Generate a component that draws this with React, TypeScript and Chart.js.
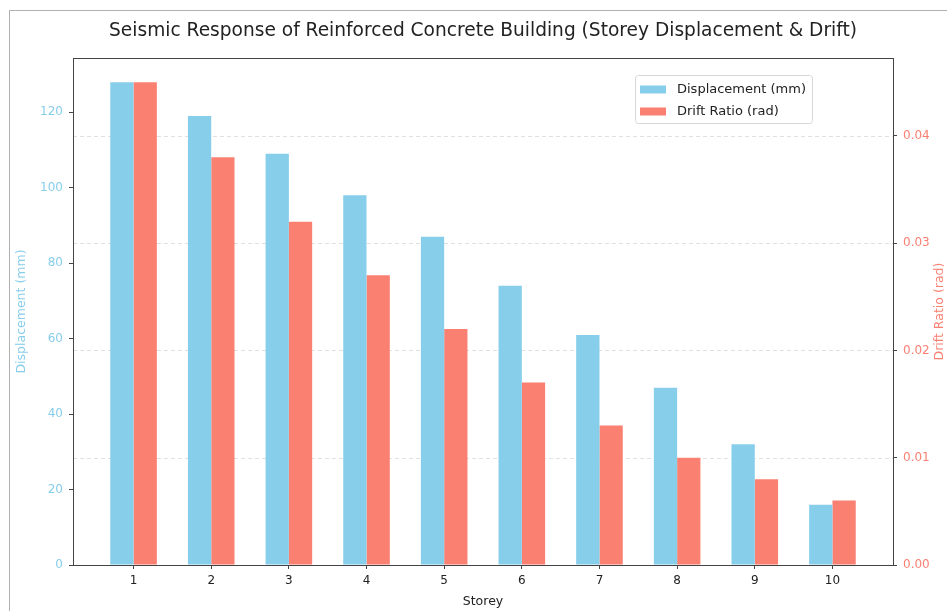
import React, { useEffect, useRef } from 'react';
import { Chart, registerables } from 'chart.js';

Chart.register(...registerables);

const storeys = [1, 2, 3, 4, 5, 6, 7, 8, 9, 10];
const displacement = [128, 119, 109, 98, 87, 74, 61, 47, 32, 16];
const driftRatio = [0.045, 0.038, 0.032, 0.027, 0.022, 0.017, 0.013, 0.01, 0.008, 0.006];
const dispTicks = [0, 20, 40, 60, 80, 100, 120];
const driftTicks = [0, 0.01, 0.02, 0.03, 0.04];
const seriesNames = ['Displacement (mm)', 'Drift Ratio (rad)'];
const chartTitle = 'Seismic Response of Reinforced Concrete Building (Storey Displacement & Drift)';
const xTitle = 'Storey';
const yLeftTitle = 'Displacement (mm)';
const yRightTitle = 'Drift Ratio (rad)';

const BLUE = '#87CEEB';
const RED = '#FA8072';
const FONT = '"DejaVu Sans", sans-serif';

const dispMax = Math.max(...displacement) * 1.05;
const driftMax = Math.max(...driftRatio) * 1.05;
const xMin = storeys[0] - 0.3 - 0.48;
const xMax = storeys[storeys.length - 1] + 0.3 + 0.48;

const decor = {
  id: 'decor',
  beforeDatasetsDraw(chart: any) {
    const { ctx, chartArea: a, scales } = chart;
    ctx.save();
    ctx.strokeStyle = 'rgba(0,0,0,0.12)';
    ctx.lineWidth = 1;
    ctx.setLineDash([4, 3]);
    driftTicks.forEach((v) => {
      if (v === 0) return;
      const y = Math.round(scales.y1.getPixelForValue(v)) + 0.5;
      ctx.beginPath();
      ctx.moveTo(a.left, y);
      ctx.lineTo(a.right, y);
      ctx.stroke();
    });
    ctx.restore();
  },
  afterDraw(chart: any) {
    const { ctx, chartArea: a, width, height } = chart;
    ctx.save();
    // outer frame
    ctx.fillStyle = '#b0b0b0';
    ctx.fillRect(9, 10, width - 9, 1);
    ctx.fillRect(9, 10, 1, height - 10);
    // axes frame
    ctx.strokeStyle = '#444';
    ctx.lineWidth = 1;
    ctx.strokeRect(Math.round(a.left) + 0.5, Math.round(a.top) + 0.5, Math.round(a.right - a.left), Math.round(a.bottom - a.top));
    // title
    const cx = (a.left + a.right) / 2;
    const cy = (a.top + a.bottom) / 2;
    ctx.fillStyle = '#222';
    ctx.font = `18.6px ${FONT}`;
    ctx.textAlign = 'center';
    ctx.textBaseline = 'middle';
    ctx.fillText(chartTitle, cx, 31);
    // x title
    ctx.font = `12.5px ${FONT}`;
    ctx.fillText(xTitle, cx, 602);
    // left title
    ctx.save();
    ctx.translate(22, cy);
    ctx.rotate(-Math.PI / 2);
    ctx.fillStyle = BLUE;
    ctx.fillText(yLeftTitle, 0, 0);
    ctx.restore();
    // right title
    ctx.save();
    ctx.translate(940, cy);
    ctx.rotate(-Math.PI / 2);
    ctx.fillStyle = RED;
    ctx.fillText(yRightTitle, 0, 0);
    ctx.restore();
    // legend
    const lx = 635, ly = 75, lw = 177, lh = 48;
    ctx.fillStyle = 'rgba(255,255,255,0.85)';
    ctx.strokeStyle = '#d6d6d6';
    ctx.beginPath();
    ctx.roundRect(lx + 0.5, ly + 0.5, lw, lh, 3);
    ctx.fill();
    ctx.stroke();
    const colors = [BLUE, RED];
    ctx.font = `13px ${FONT}`;
    ctx.textAlign = 'left';
    seriesNames.forEach((n, i) => {
      const ry = 89.5 + i * 22;
      ctx.fillStyle = colors[i];
      ctx.fillRect(640, ry - 4, 26, 8);
      ctx.fillStyle = '#222';
      ctx.fillText(n, 677, ry);
    });
    ctx.restore();
  },
};

export default function App() {
  const ref = useRef<HTMLCanvasElement>(null);
  useEffect(() => {
    if (!ref.current) return;
    Chart.defaults.font.family = FONT;
    const chart = new Chart(ref.current, {
      type: 'bar',
      data: {
        datasets: [
          {
            label: seriesNames[0],
            data: storeys.map((s, i) => ({ x: s, y: displacement[i] })),
            backgroundColor: BLUE,
            yAxisID: 'y',
            categoryPercentage: 0.6,
            barPercentage: 1.0,
          },
          {
            label: seriesNames[1],
            data: storeys.map((s, i) => ({ x: s, y: driftRatio[i] })),
            backgroundColor: RED,
            yAxisID: 'y1',
            categoryPercentage: 0.6,
            barPercentage: 1.0,
          },
        ],
      } as any,
      options: {
        responsive: false,
        animation: false,
        devicePixelRatio: 1,
        layout: { padding: { top: 58, left: 0, right: 0, bottom: 0 } },
        plugins: { legend: { display: false }, title: { display: false }, tooltip: { enabled: false } },
        scales: {
          x: {
            type: 'linear',
            min: xMin,
            max: xMax,
            offset: false,
            grid: { drawOnChartArea: false, drawTicks: true, tickLength: 4, tickColor: '#444', offset: false },
            border: { display: false },
            ticks: { color: '#222', font: { size: 12 }, padding: 5, maxRotation: 0 },
            afterBuildTicks: (s: any) => {
              s.ticks = storeys.map((v) => ({ value: v }));
            },
            afterFit: (s: any) => {
              s.height = 46;
            },
          },
          y: {
            type: 'linear',
            position: 'left',
            min: 0,
            max: dispMax,
            grid: { drawOnChartArea: false, drawTicks: true, tickLength: 4, tickColor: '#444' },
            border: { display: false },
            ticks: { color: BLUE, font: { size: 12 }, padding: 6, callback: (v: any) => String(v) },
            afterBuildTicks: (s: any) => {
              s.ticks = dispTicks.map((v) => ({ value: v }));
            },
            afterFit: (s: any) => {
              s.width = 73;
            },
          },
          y1: {
            type: 'linear',
            position: 'right',
            min: 0,
            max: driftMax,
            grid: { drawOnChartArea: false, drawTicks: true, tickLength: 4, tickColor: '#444' },
            border: { display: false },
            ticks: { color: RED, font: { size: 12 }, padding: 6, callback: (v: any) => Number(v).toFixed(2) },
            afterBuildTicks: (s: any) => {
              s.ticks = driftTicks.map((v) => ({ value: v }));
            },
            afterFit: (s: any) => {
              s.width = 54;
            },
          },
        },
      } as any,
      plugins: [decor],
    });
    return () => chart.destroy();
  }, []);
  return (
    <div style={{ position: 'absolute', left: 0, top: 0, width: 947, height: 611, background: '#fff' }}>
      <canvas ref={ref} width={947} height={611} style={{ width: 947, height: 611, display: 'block' }} />
    </div>
  );
}
